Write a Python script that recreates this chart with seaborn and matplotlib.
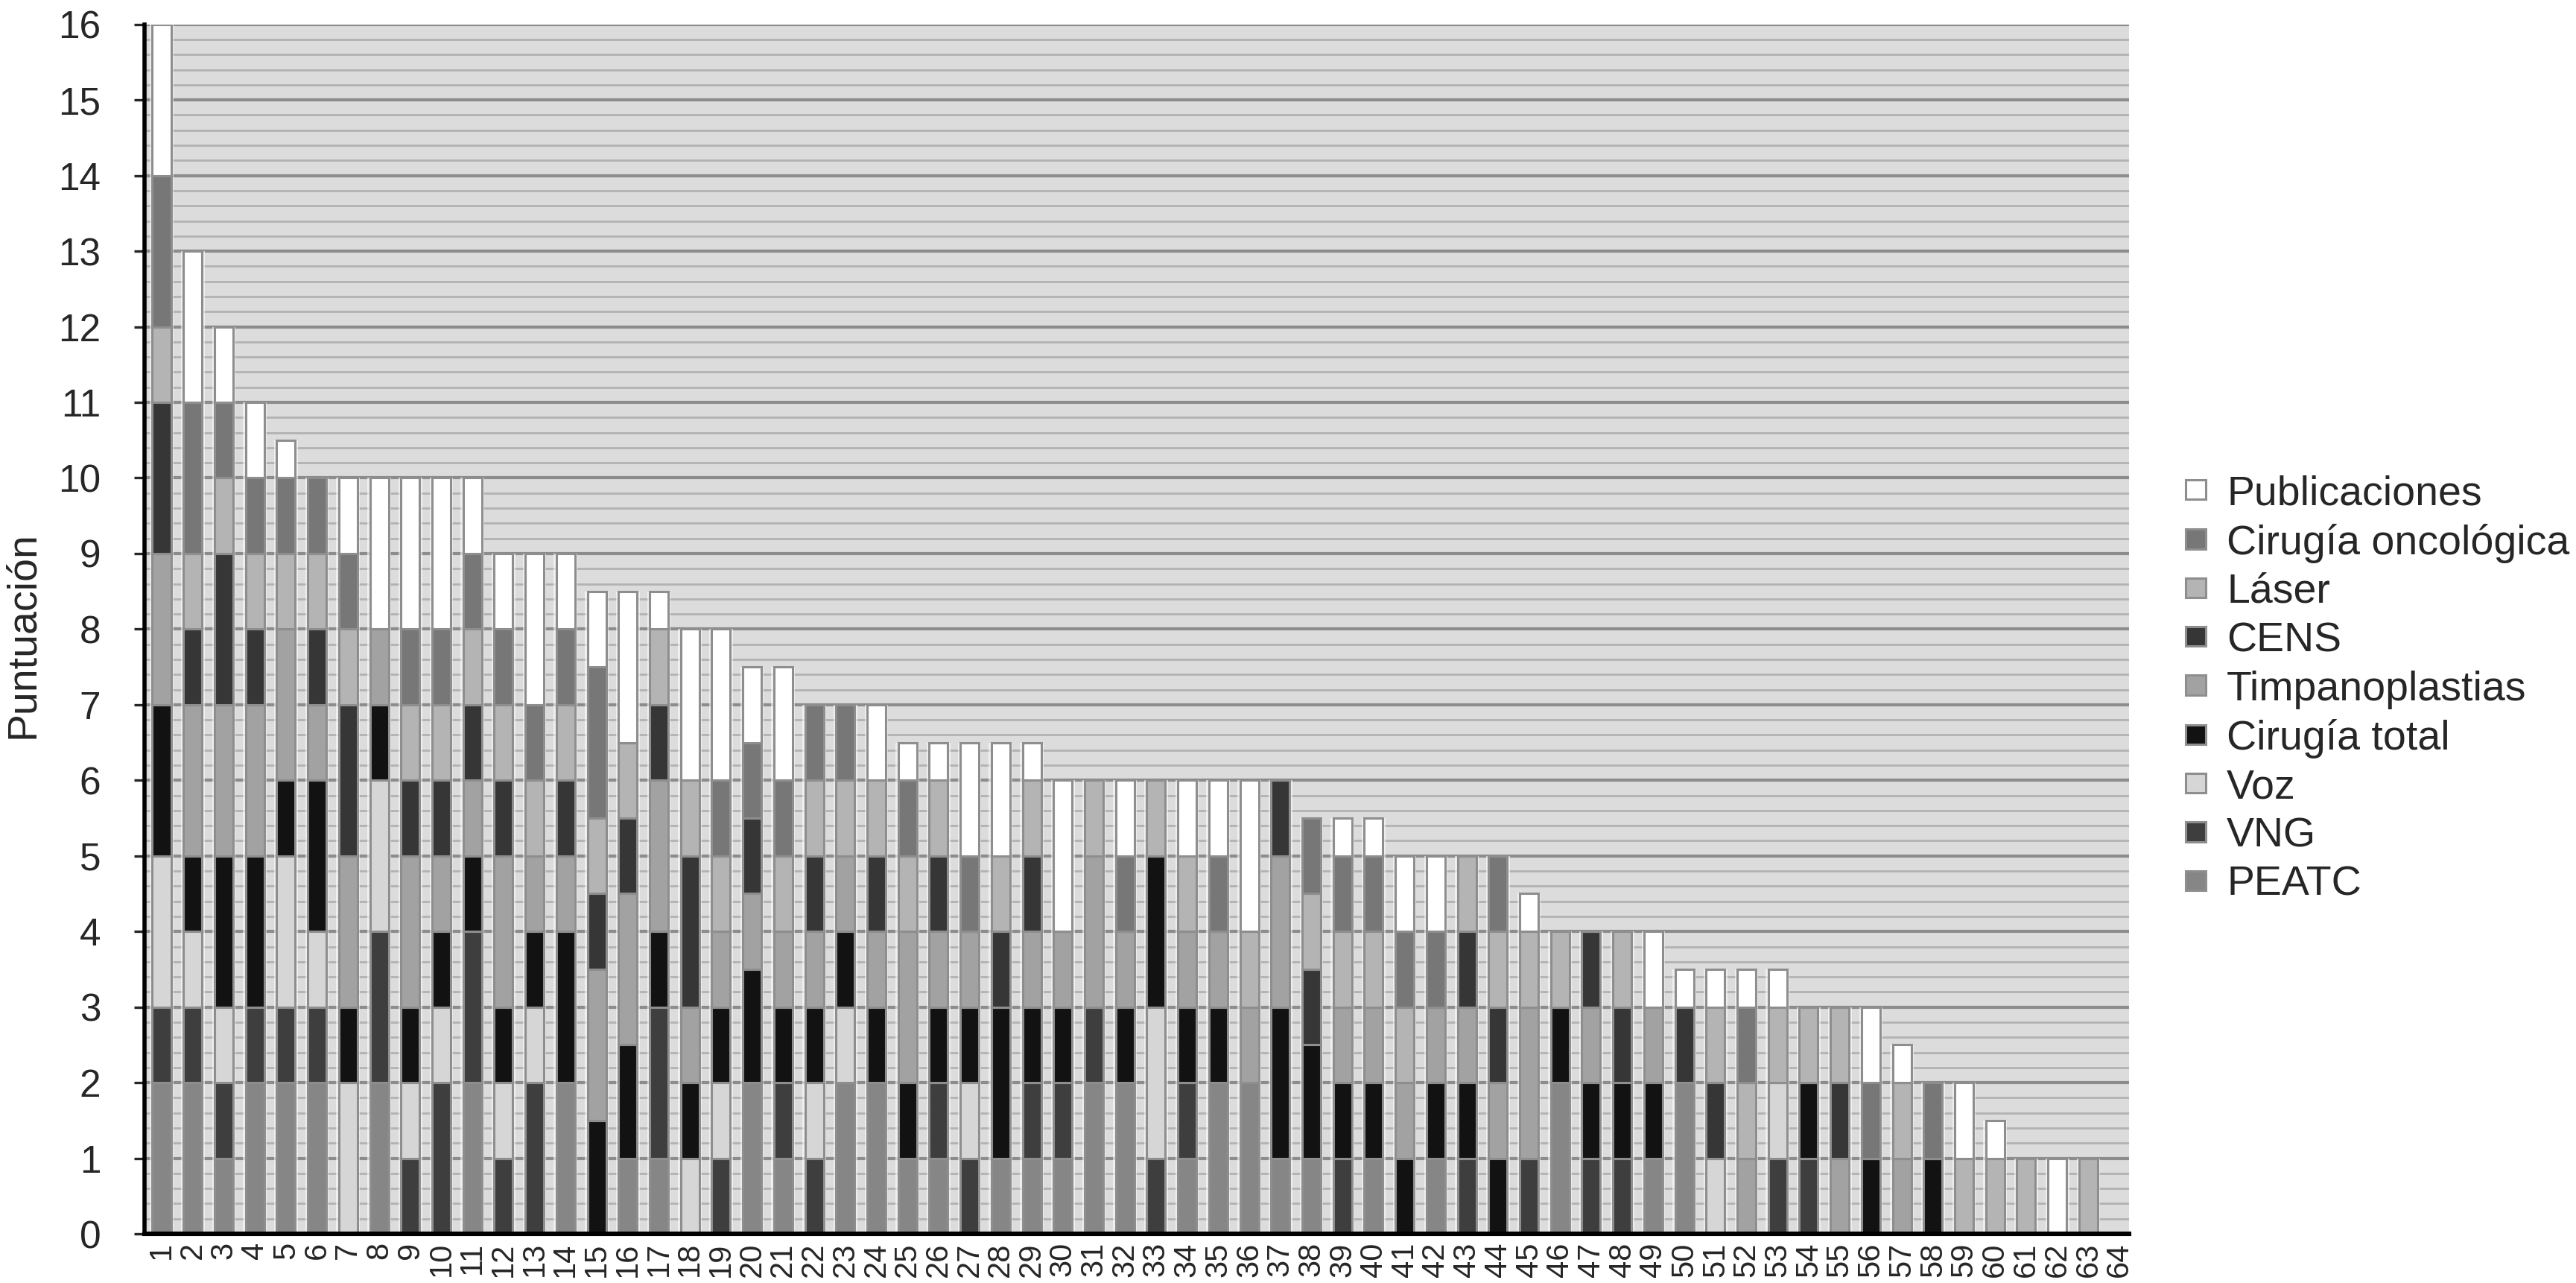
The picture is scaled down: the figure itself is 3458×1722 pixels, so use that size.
import numpy as np
import pandas as pd
import seaborn as sns
import matplotlib.pyplot as plt
from matplotlib.ticker import MultipleLocator

# stacking order, bottom to top
areas = ["PEATC", "VNG", "Voz", "Cirugía total", "Timpanoplastias",
         "CENS", "Láser", "Cirugía oncológica", "Publicaciones"]

pacientes = list(range(1, 65))

peatc = [2, 2, 1, 2, 2, 2, 0, 2, 0, 0,  2, 0, 0, 2, 0, 1, 1, 0, 0, 2,
         1, 0, 2, 2, 1, 1, 0, 1, 1, 1,  2, 2, 0, 1, 2, 2, 1, 1, 0, 1,
         0, 1, 0, 0, 0, 2, 0, 0, 1, 2,  0, 0, 0, 0, 0, 0, 0, 0, 0, 0,
         0, 0, 0, 0]
vng = [1, 1, 1, 1, 1, 1, 0, 2, 1, 2,  2, 1, 2, 0, 0, 0, 2, 0, 1, 0,
       1, 1, 0, 0, 0, 1, 1, 0, 1, 1,  1, 0, 1, 1, 0, 0, 0, 0, 1, 0,
       0, 0, 1, 0, 1, 0, 1, 1, 0, 0,  0, 0, 1, 1, 0, 0, 0, 0, 0, 0,
       0, 0, 0, 0]
voz = [2, 1, 1, 0, 2, 1, 2, 2, 1, 1,  0, 1, 1, 0, 0, 0, 0, 1, 1, 0,
       0, 1, 1, 0, 0, 0, 1, 0, 0, 0,  0, 0, 2, 0, 0, 0, 0, 0, 0, 0,
       0, 0, 0, 0, 0, 0, 0, 0, 0, 0,  1, 0, 1, 0, 0, 0, 0, 0, 0, 0,
       0, 0, 0, 0]
cir_total = [2, 1, 2, 2, 1, 2, 1, 1, 1, 1,  1, 1, 1, 2, 1.5, 1.5, 1, 1, 1, 1.5,
             1, 1, 1, 1, 1, 1, 1, 2, 1, 1,  0, 1, 2, 1, 1, 0, 2, 1.5, 1, 1,
             1, 1, 1, 1, 0, 1, 1, 1, 1, 0,  0, 0, 0, 1, 0, 1, 0, 1, 0, 0,
             0, 0, 0, 0]
timpano = [2, 2, 2, 2, 2, 1, 2, 1, 2, 1,  1, 2, 1, 1, 2, 2, 2, 1, 1, 1,
           1, 1, 1, 1, 2, 1, 1, 0, 1, 1,  2, 1, 0, 1, 1, 1, 2, 0, 1, 1,
           1, 1, 1, 1, 2, 0, 1, 0, 1, 0,  0, 1, 0, 0, 1, 0, 1, 0, 0, 0,
           0, 0, 0, 0]
cens = [2, 1, 2, 1, 0, 1, 2, 0, 1, 1,  1, 1, 0, 1, 1, 1, 1, 2, 0, 1,
        0, 1, 0, 1, 0, 1, 0, 1, 1, 0,  0, 0, 0, 0, 0, 0, 1, 1, 0, 0,
        0, 0, 1, 1, 0, 0, 1, 1, 0, 1,  1, 0, 0, 0, 1, 0, 0, 0, 0, 0,
        0, 0, 0, 0]
laser = [1, 1, 1, 1, 1, 1, 1, 0, 1, 1,  1, 1, 1, 1, 1, 1, 1, 1, 1, 0,
         1, 1, 1, 1, 1, 1, 0, 1, 1, 0,  1, 0, 1, 1, 0, 1, 0, 1, 1, 1,
         1, 0, 1, 1, 1, 1, 0, 1, 0, 0,  1, 1, 1, 1, 1, 0, 1, 0, 1, 1,
         1, 0, 1, 0]
cir_onco = [2, 2, 1, 1, 1, 1, 1, 0, 1, 1,  1, 1, 1, 1, 2, 0, 0, 0, 1, 1,
            1, 1, 1, 0, 1, 0, 1, 0, 0, 0,  0, 1, 0, 0, 1, 0, 0, 1, 1, 1,
            1, 1, 0, 1, 0, 0, 0, 0, 0, 0,  0, 1, 0, 0, 0, 1, 0, 1, 0, 0,
            0, 0, 0, 0]
publicaciones = [2, 2, 1, 1, 0.5, 0, 1, 2, 2, 2,  1, 1, 2, 1, 1, 2, 0.5, 2, 2, 1,
                 1.5, 0, 0, 1, 0.5, 0.5, 1.5, 1.5, 0.5, 2,  0, 1, 0, 1, 1, 2, 0, 0, 0.5, 0.5,
                 1, 1, 0, 0, 0.5, 0, 0, 0, 1, 0.5,  0.5, 0.5, 0.5, 0, 0, 1, 0.5, 0, 1, 0.5,
                 0, 1, 0, 0]

series = [peatc, vng, voz, cir_total, timpano, cens, laser, cir_onco, publicaciones]

colores = {
    "PEATC": "#868686",
    "VNG": "#3e3e3e",
    "Voz": "#d6d6d6",
    "Cirugía total": "#121212",
    "Timpanoplastias": "#a2a2a2",
    "CENS": "#363636",
    "Láser": "#b4b4b4",
    "Cirugía oncológica": "#777777",
    "Publicaciones": "#ffffff",
}

filas = []
for area, vals in zip(areas, series):
    for p, v in zip(pacientes, vals):
        if v > 0:
            filas.append({"paciente": p, "area": area, "puntos": v})
df = pd.DataFrame(filas)
totales = pd.DataFrame({"paciente": pacientes,
                        "total": np.sum(series, axis=0)})

sns.set_style("ticks")
plt.rcParams["font.family"] = ["Liberation Sans", "DejaVu Sans"]

fig, ax = plt.subplots(figsize=(17.29, 8.61), dpi=200)
fig.subplots_adjust(left=0.056, right=0.8265, bottom=0.0383, top=0.981)
ax.set_facecolor("#dcdcdc")

# light halo behind each column, like the glossy bars of the original
sns.histplot(data=totales[totales.total > 0], x="paciente", weights="total",
             discrete=True, shrink=0.76, color="white", alpha=0.6,
             linewidth=0, ax=ax)

# legend lists top of stack first
orden = areas[::-1]
sns.histplot(data=df, x="paciente", weights="puntos", hue="area",
             hue_order=orden, multiple="stack", discrete=True, shrink=0.6,
             palette=colores, alpha=1, edgecolor="#8e8e8e", linewidth=1.1,
             ax=ax)

ax.set_xlim(0.44, 64.31)
ax.set_ylim(0, 16)
ax.set_yticks(range(0, 17))
ax.yaxis.set_minor_locator(MultipleLocator(0.2))
ax.set_axisbelow(True)
ax.grid(which="major", axis="y", color="#8c8c8c", linewidth=1.5)
ax.grid(which="minor", axis="y", color="#b2b2b2", linewidth=1.0)
ax.grid(which="major", axis="x", visible=False)

ax.set_xticks(pacientes)
ax.set_xticklabels([str(p) for p in pacientes], rotation=90, fontsize=15)
ax.tick_params(axis="x", length=0, pad=4)
ax.tick_params(axis="y", which="major", length=5, width=1.2, labelsize=18.5, pad=16)
ax.tick_params(axis="y", which="minor", length=0)

ax.set_xlabel("")
ax.set_ylabel("Puntuación", fontsize=20)
ax.yaxis.set_label_coords(-0.061, 0.495)
ax.yaxis.label.set_va("center")

for s in ["top", "right"]:
    ax.spines[s].set_visible(False)
ax.spines["left"].set_color("black")
ax.spines["left"].set_linewidth(2)
ax.spines["bottom"].set_color("black")
ax.spines["bottom"].set_linewidth(2.2)

sns.move_legend(ax, "center left", bbox_to_anchor=(1.02, 0.45), frameon=False,
                title=None, fontsize=20, handlelength=0.5, handleheight=0.35,
                handletextpad=0.5, labelspacing=0.24, borderaxespad=0)

fig.savefig("out.png", dpi=200)
